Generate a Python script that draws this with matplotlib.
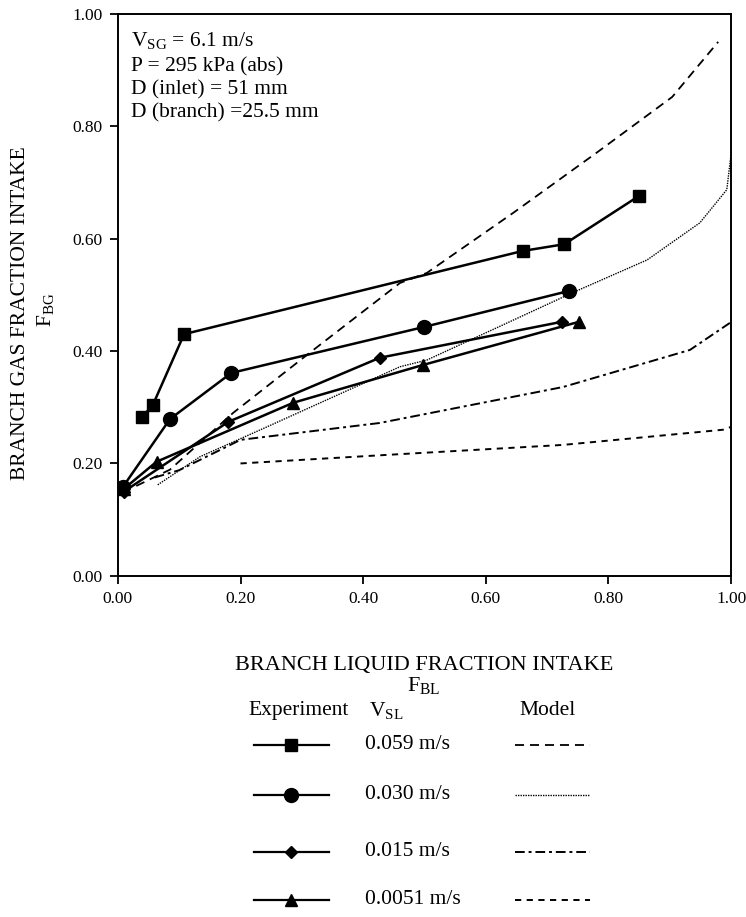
import matplotlib.pyplot as plt
from matplotlib.lines import Line2D

plt.rcParams['font.family'] = ['Liberation Serif', 'DejaVu Serif']
plt.rcParams['mathtext.fontset'] = 'custom'
plt.rcParams['mathtext.rm'] = 'Liberation Serif'

# experiment data (F_BL, F_BG)
sq_x = [0.04, 0.057, 0.108, 0.66, 0.728, 0.85]
sq_y = [0.283, 0.304, 0.43, 0.578, 0.59, 0.676]
ci_x = [0.008, 0.085, 0.185, 0.50, 0.736]
ci_y = [0.158, 0.279, 0.361, 0.443, 0.507]
di_x = [0.01, 0.18, 0.427, 0.724]
di_y = [0.15, 0.274, 0.388, 0.452]
tr_x = [0.01, 0.063, 0.286, 0.497, 0.752]
tr_y = [0.155, 0.203, 0.308, 0.375, 0.452]

# model curves
m1_x = [0.03, 0.085, 0.188, 0.313, 0.46, 0.504, 0.645, 0.781, 0.904, 0.979]
m1_y = [0.16, 0.189, 0.29, 0.397, 0.521, 0.539, 0.646, 0.753, 0.852, 0.95]
m2_x = [0.065, 0.134, 0.243, 0.46, 0.504, 0.742, 0.863, 0.949, 0.993, 1.0]
m2_y = [0.162, 0.212, 0.265, 0.372, 0.384, 0.504, 0.562, 0.628, 0.687, 0.75]
m3_x = [0.06, 0.1, 0.2, 0.427, 0.726, 0.933, 0.998]
m3_y = [0.175, 0.188, 0.242, 0.272, 0.336, 0.402, 0.45]
m4_x = [0.2, 0.435, 0.726, 0.987, 1.0]
m4_y = [0.2, 0.215, 0.233, 0.26, 0.265]

ticks = [0.0, 0.2, 0.4, 0.6, 0.8, 1.0]
speeds = ['0.059 m/s', '0.030 m/s', '0.015 m/s', '0.0051 m/s']
markers = ['s', 'o', 'D', '^']
msizes = [9, 10, 6.5, 9]
model_styles = [dict(dashes=(5, 3.3), lw=1.3), dict(dashes=(1, 0.8), lw=1.0),
                dict(dashes=(5, 2, 1.5, 2), lw=1.4), dict(dashes=(3.2, 2.8), lw=1.4)]

fig = plt.figure(figsize=(7.46, 9.17), dpi=100)
ax = fig.add_axes([0.158, 0.372, 0.822, 0.613])

exp = [(sq_x, sq_y), (ci_x, ci_y), (di_x, di_y), (tr_x, tr_y)]
for (x, y), m, ms in zip(exp, markers, msizes):
    ax.plot(x, y, color='black', lw=1.8, marker=m, ms=ms)
models = [(m1_x, m1_y), (m2_x, m2_y), (m3_x, m3_y), (m4_x, m4_y)]
for (x, y), st in zip(models, model_styles):
    ax.plot(x, y, color='black', **st)

ax.set_xlim(0, 1)
ax.set_ylim(0, 1)
ax.set_xticks(ticks)
ax.set_yticks(ticks)
ax.set_xticklabels([f'{t:.2f}' for t in ticks])
ax.set_yticklabels([f'{t:.2f}' for t in ticks])
ax.tick_params(direction='out', length=6, width=1.3, labelsize=12.5, pad=5)
for s in ax.spines.values():
    s.set_linewidth(1.4)

info = [r'V$_{\mathrm{SG}}$ = 6.1 m/s', 'P = 295 kPa (abs)',
        'D (inlet) = 51 mm', 'D (branch) =25.5 mm']
for i, t in enumerate(info):
    ax.text(0.021, 0.952 - i * 0.041 - (0.006 if i else 0), t,
            transform=ax.transAxes, fontsize=15.5, va='center')

fig.text(0.027, 0.659, 'BRANCH GAS FRACTION INTAKE', rotation=90, fontsize=15.5,
         ha='center', va='center')
fig.text(0.062, 0.662, r'F$_{\mathrm{BG}}$', rotation=90, fontsize=15.5,
         ha='center', va='center')
fig.text(0.568, 0.274, 'BRANCH LIQUID FRACTION INTAKE', fontsize=16,
         ha='center', va='center')
fig.text(0.568, 0.252, r'F$_{\mathrm{BL}}$', fontsize=16, ha='center', va='center')

# legend block
lg = fig.add_axes([0, 0, 1, 0.24])
lg.set_xlim(0, 746)
lg.set_ylim(220, 0)
lg.axis('off')
lg.text(299, 14, 'Experiment', fontsize=15.5, ha='center', va='center')
lg.text(386, 14, r'V$_{\mathrm{SL}}$', fontsize=15.5, ha='center', va='center')
lg.text(548, 14, 'Model', fontsize=15.5, ha='center', va='center')
rows = [48, 98, 155, 203]
for r, sp, m, ms, st in zip(rows, speeds, markers, msizes, model_styles):
    lg.add_line(Line2D([254, 329], [r, r], color='black', lw=1.6))
    lg.plot([291], [r], color='black', marker=m, ms=ms, ls='none')
    lg.text(365, r, sp, fontsize=15.5, ha='left', va='center')
    lg.add_line(Line2D([515, 590], [r, r], color='black', **st))

fig.savefig('out.png', dpi=100)
